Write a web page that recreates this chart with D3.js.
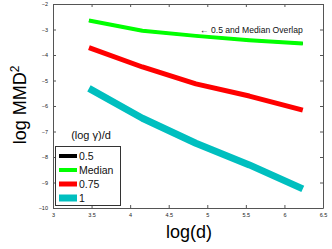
<!DOCTYPE html>
<html><head><meta charset="utf-8">
<script src="https://cdn.jsdelivr.net/npm/d3@7"></script>
<style>body{margin:0;background:#fff}svg{display:block;font-family:"Liberation Sans",Arial,sans-serif}</style>
</head><body><svg id="c" width="332" height="249"></svg>
<script>
const logD = [3.466, 4.159, 4.852, 5.545, 6.238];
const seriesNames = ["0.5", "Median", "0.75", "1"];
const seriesColors = ["#000000", "#00ff00", "#ff0000", "#00bfbf"];
const seriesWidths = [4, 4, 5, 7];
const s05 = [-2.65, -3.05, -3.25, -3.42, -3.55];
const sMedian = [-2.65, -3.05, -3.25, -3.42, -3.55];
const s075 = [-3.71, -4.47, -5.13, -5.61, -6.16];
const s1 = [-5.31, -6.48, -7.46, -8.31, -9.25];
const seriesValues = [s05, sMedian, s075, s1];
const xTicks = [3, 3.5, 4, 4.5, 5, 5.5, 6, 6.5];
const yTicks = [-10, -9, -8, -7, -6, -5, -4, -3, -2];

const svg = d3.select("#c");
const L = 53, R = 323, T = 4, B = 208;
const x = d3.scaleLinear().domain([3, 6.5]).range([L, R]);
const y = d3.scaleLinear().domain([-10, -2]).range([B, T]);

const fmt = d => String(d).replace("-", "\u2212");
const axStyle = g => {
  g.selectAll("path").attr("stroke", "#555").attr("stroke-width", 1);
  g.selectAll("line").attr("stroke", "#555");
  g.selectAll("text").attr("font-size", 5.5).attr("fill", "#222").attr("font-family", "Liberation Sans, Arial, sans-serif");
};
svg.append("g").attr("transform", `translate(0,${B})`)
  .call(d3.axisBottom(x).tickValues(xTicks).tickSize(-3).tickSizeOuter(0).tickPadding(5).tickFormat(d => d)).call(axStyle);
svg.append("g").attr("transform", `translate(0,${T})`)
  .call(d3.axisTop(x).tickValues(xTicks).tickSize(-3).tickSizeOuter(0).tickFormat("")).call(axStyle);
svg.append("g").attr("transform", `translate(${L},0)`)
  .call(d3.axisLeft(y).tickValues(yTicks).tickSize(-3).tickSizeOuter(0).tickPadding(5).tickFormat(fmt)).call(axStyle);
svg.append("g").attr("transform", `translate(${R},0)`)
  .call(d3.axisRight(y).tickValues(yTicks).tickSize(-3).tickSizeOuter(0).tickFormat("")).call(axStyle);

const line = d3.line().x((d, i) => x(logD[i])).y(d => y(d)).curve(d3.curveLinear);
const plotWidths = [2.5, 4, 5, 7];
seriesValues.forEach((vals, k) => {
  svg.append("path").datum(vals).attr("d", line).attr("fill", "none")
    .attr("stroke", seriesColors[k]).attr("stroke-width", plotWidths[k]).attr("stroke-linejoin", "round");
});

svg.append("text").attr("x", 200).attr("y", 33).attr("font-size", 8.6).attr("fill", "#111")
  .text("\u2190 0.5 and Median Overlap");

// legend
svg.append("text").attr("x", 91).attr("y", 139).attr("text-anchor", "middle").attr("font-size", 11).attr("fill", "#111").text("(log \u03b3)/d");
svg.append("rect").attr("x", 55.5).attr("y", 146.5).attr("width", 65).attr("height", 59).attr("fill", "#fff").attr("stroke", "#333").attr("stroke-width", 1);
const rowY = [156, 170, 184, 198];
seriesNames.forEach((n, k) => {
  svg.append("line").attr("x1", 59).attr("x2", 77).attr("y1", rowY[k]).attr("y2", rowY[k])
    .attr("stroke", seriesColors[k]).attr("stroke-width", seriesWidths[k]);
  svg.append("text").attr("x", 79).attr("y", rowY[k] + 3.8).attr("font-size", 10.5).attr("fill", "#111").text(n);
});

svg.append("text").attr("transform", "translate(26,105) rotate(-90)").attr("text-anchor", "middle")
  .attr("font-size", 18).attr("fill", "#000")
  .html('log MMD<tspan dy="-7" font-size="12">2</tspan>');
svg.append("text").attr("x", 189).attr("y", 238).attr("text-anchor", "middle").attr("font-size", 18).attr("fill", "#000").text("log(d)");
</script></body></html>
